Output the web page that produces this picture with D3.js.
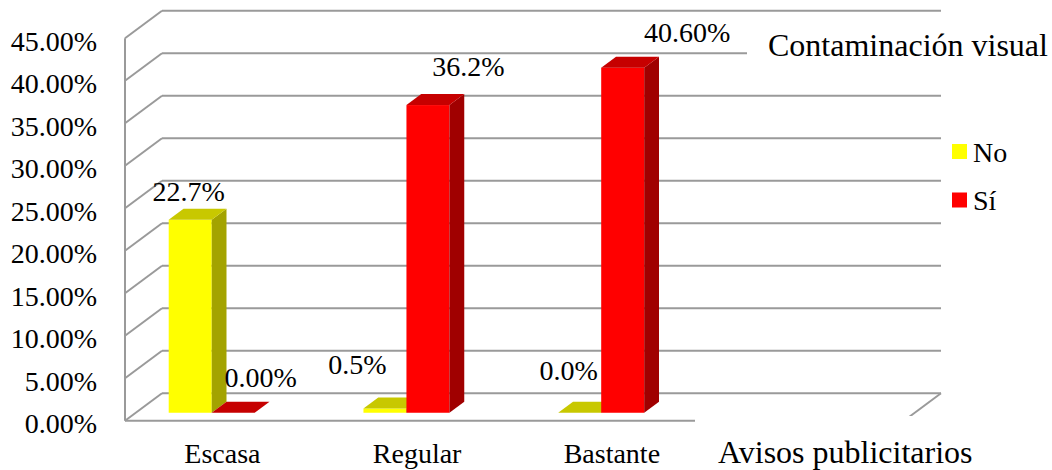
<!DOCTYPE html>
<html>
<head>
<meta charset="utf-8">
<script src="https://cdn.jsdelivr.net/npm/d3@7"></script>
<style>
  html, body { margin: 0; padding: 0; background: #fff; }
  svg { display: block; }
  svg text { font-family: "Liberation Serif", "Times New Roman", Times, serif !important; }
</style>
</head>
<body>
<svg id="chart" width="1052" height="470"></svg>
<script>
// Chart data
const categories = ["Escasa", "Regular", "Bastante"];
const seriesNames = ["No", "Sí"];
const valuesNo = [22.7, 0.5, 0.0];
const valuesSi = [0.00, 36.2, 40.60];
const decimalsNo = [1, 1, 1];
const decimalsSi = [2, 1, 2];
const yTickValues = [0, 5, 10, 15, 20, 25, 30, 35, 40, 45];
const axisTitleX = "Avisos publicitarios";
const legendTitle = "Contaminación visual";

// Layout: oblique 3D projection of the plot box
const plotLeft = 125, plotRight = 904;      // front plane
const floorFront = 420.7, wallTop = 38.2;   // front-plane y of 0 % and 45 %
const depthDX = 37, depthDY = 27.4;         // wall depth offset
const slots = 4;                            // category slots along the axis
const barZ0 = 0.29, barZ1 = 0.69;           // bar depth span (fraction of wall depth)
const barWidth = 43, barShift = -21.4;
const labelNudgeNo = [[-9, 0], [-35, -16], [-18.5, -14]];
const labelNudgeSi = [[20, -7], [33, -9.6], [57, -6.7]];

const colors = {
  "No": { front: "#FFFF00", top: "#C8C800", side: "#A3A300" },
  "Sí": { front: "#FF0000", top: "#C60000", side: "#A00000" }
};
const gridColor = "#9a9a9a";
const serif = "'Liberation Serif', 'Times New Roman', serif";

const svg = d3.select("#chart");

const y = d3.scaleLinear().domain([0, 45]).range([floorFront, wallTop]);
const slotW = (plotRight - plotLeft) / slots;
const x = d3.scaleBand().domain(categories)
  .range([plotLeft, plotLeft + slotW * categories.length]);
const xSub = d3.scaleBand().domain(seriesNames).range([0, barWidth * seriesNames.length]);

// project (front-plane x, value, depth z) to screen
const px = (xx, z) => xx + z * depthDX;
const py = (v, z) => y(v) - z * depthDY;

// Walls and gridlines
const grid = svg.append("g").attr("stroke", gridColor).attr("stroke-width", 2).attr("fill", "none");
yTickValues.forEach(v => {
  grid.append("line")
    .attr("x1", px(plotLeft, 1)).attr("x2", px(plotRight, 1))
    .attr("y1", py(v, 1)).attr("y2", py(v, 1));
  grid.append("line")
    .attr("x1", px(plotLeft, 0)).attr("x2", px(plotLeft, 1))
    .attr("y1", py(v, 0)).attr("y2", py(v, 1));
});
grid.append("line")
  .attr("x1", plotLeft).attr("x2", plotLeft)
  .attr("y1", y(45)).attr("y2", y(0));
grid.append("line")
  .attr("x1", plotLeft).attr("x2", plotRight)
  .attr("y1", y(0)).attr("y2", y(0));
grid.append("line")
  .attr("x1", px(plotRight, 0)).attr("x2", px(plotRight, 1))
  .attr("y1", py(0, 0)).attr("y2", py(0, 1));

// Y axis labels
const yAxis = d3.axisLeft(y).tickValues(yTickValues).tickSize(0).tickPadding(3)
  .tickFormat(d => d.toFixed(2) + "%");
const yg = svg.append("g").attr("transform", "translate(100,0)").call(yAxis)
  .attr("font-family", serif).attr("font-size", 28);
yg.select(".domain").remove();
yg.selectAll("text")
  .attr("dy", 12)
  .attr("font-size", 28)
  .attr("font-family", serif)
  .attr("fill", "#000");

// Bars
const rows = [];
categories.forEach((c, i) => {
  rows.push({ cat: c, i, s: "No", v: valuesNo[i], dec: decimalsNo[i], nudge: labelNudgeNo[i] });
  rows.push({ cat: c, i, s: "Sí", v: valuesSi[i], dec: decimalsSi[i], nudge: labelNudgeSi[i] });
});

const ddx = (barZ1 - barZ0) * depthDX, ddy = (barZ1 - barZ0) * depthDY;
function barGeom(d) {
  const x0 = x(d.cat) + x.bandwidth() / 2 + barShift - barWidth + xSub(d.s);
  const xl = px(x0, barZ0), xr = xl + barWidth;
  const yt = py(d.v, barZ0), yb = py(0, barZ0);
  return { xl, xr, yt, yb };
}

const bars = svg.append("g");
rows.forEach(d => {
  const g = barGeom(d);
  const c = colors[d.s];
  const gb = bars.append("g");
  gb.append("rect")
    .attr("x", g.xl).attr("y", g.yt)
    .attr("width", g.xr - g.xl).attr("height", g.yb - g.yt)
    .attr("fill", c.front);
  gb.append("path")
    .attr("d", `M${g.xr},${g.yt}L${g.xr + ddx},${g.yt - ddy}L${g.xr + ddx},${g.yb - ddy}L${g.xr},${g.yb}Z`)
    .attr("fill", c.side);
  gb.append("path")
    .attr("d", `M${g.xl},${g.yt}L${g.xr},${g.yt}L${g.xr + ddx},${g.yt - ddy}L${g.xl + ddx},${g.yt - ddy}Z`)
    .attr("fill", c.top);
});

// Value labels
svg.append("g").attr("font-family", serif).selectAll("text").data(rows).join("text")
  .attr("x", d => { const g = barGeom(d); return (g.xl + g.xr) / 2 + ddx / 2 + d.nudge[0]; })
  .attr("y", d => { const g = barGeom(d); return g.yt - ddy - 8 + d.nudge[1]; })
  .attr("text-anchor", "middle")
  .attr("font-size", 28)
  .attr("fill", "#000")
  .text(d => d.v.toFixed(d.dec) + "%");

// Category labels
svg.append("g").attr("font-family", serif).selectAll("text").data(categories).join("text")
  .attr("x", d => x(d) + x.bandwidth() / 2)
  .attr("y", 463)
  .attr("text-anchor", "middle")
  .attr("font-size", 28)
  .attr("fill", "#000")
  .text(d => d);

// Axis title over a white box
svg.append("rect").attr("x", 695).attr("y", 416).attr("width", 300).attr("height", 54).attr("fill", "#fff");
svg.append("text").attr("x", 718).attr("y", 463).attr("font-family", serif)
  .attr("font-size", 32).attr("fill", "#000").text(axisTitleX);

// Legend title over a white box
svg.append("rect").attr("x", 747).attr("y", 22).attr("width", 305).attr("height", 50).attr("fill", "#fff");
svg.append("text").attr("x", 768).attr("y", 56).attr("font-family", serif)
  .attr("font-size", 32).attr("fill", "#000").text(legendTitle);

// Legend
const legend = svg.append("g").attr("font-family", serif);
seriesNames.forEach((s, i) => {
  const ly = 144 + i * 48.5;
  legend.append("rect").attr("x", 952).attr("y", ly).attr("width", 15).attr("height", 15)
    .attr("fill", colors[s].front);
  legend.append("text").attr("x", 973).attr("y", ly + 17.5)
    .attr("font-size", 28).attr("fill", "#000").text(s);
});
</script>
</body>
</html>
